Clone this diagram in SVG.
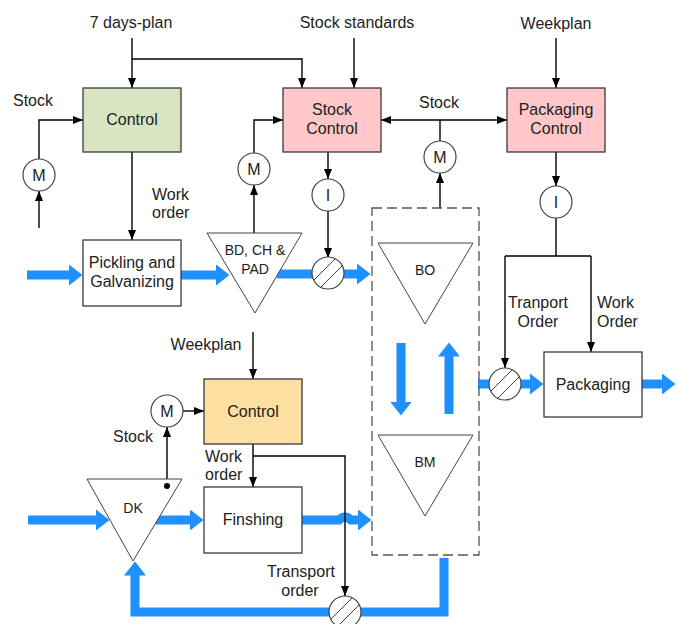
<svg xmlns="http://www.w3.org/2000/svg" xmlns:xlink="http://www.w3.org/1999/xlink" width="678" height="624" viewBox="0 0 678 624">
  <style>
    text { font-family: "Liberation Sans", Arial, sans-serif; font-size: 16px; fill: #222; }
    .c { text-anchor: middle; }
    .sm { font-size: 14px; }
    .box { stroke: #3a3a3a; stroke-width: 1.3; }
    .tri { fill: #fff; stroke: #444; stroke-width: 1; }
    .circ { fill: #fff; stroke: #444; stroke-width: 1.2; }
    .ln { fill: none; stroke: #000; stroke-width: 1.4; }
    .arr { marker-end: url(#ah); }
    .flow { fill: none; stroke: #1e90ff; stroke-width: 9; }
    .fa { marker-end: url(#bh); }
    .dash { fill: none; stroke: #555; stroke-width: 1.3; stroke-dasharray: 10 5; }
  </style>
  <defs>
    <marker id="ah" markerUnits="userSpaceOnUse" markerWidth="10" markerHeight="8" refX="10" refY="4" orient="auto">
      <path d="M0,0 L10,4 L0,8 z" fill="#000"/>
    </marker>
    <marker id="bh" markerUnits="userSpaceOnUse" markerWidth="15" markerHeight="22" refX="0.5" refY="11" orient="auto">
      <path d="M0,0 L14,11 L0,22 z" fill="#1e90ff"/>
    </marker>
    <g id="valveShape">
      <circle r="16" class="circ"/>
      <path d="M-14.25,7.25 L7.25,-14.25 M-7.25,14.25 L14.25,-7.25" stroke="#444" stroke-width="1" fill="none"/>
    </g>
  </defs>

  <!-- material flows (blue) -->
  <g id="flows">
    <path class="flow fa" d="M27,275 H69"/>
    <path class="flow fa" d="M181,275 H216"/>
    <path class="flow" d="M277,274 H313"/>
    <path class="flow fa" d="M343,274 H357"/>
    <path class="flow" d="M478,384 H490"/>
    <path class="flow fa" d="M520,384 H530"/>
    <path class="flow fa" d="M642,384 H662"/>
    <path class="flow fa" d="M28,520 H96"/>
    <path class="flow fa" d="M156,520 H190"/>
    <path class="flow fa" d="M302,520 H339 Q345,514 351,520 H358"/>
    <path class="flow fa" d="M401,343 V402"/>
    <path class="flow fa" d="M449,414 V356"/>
    <path class="flow fa" d="M444,558 V612 H135 V575" stroke-linejoin="miter"/>
  </g>

  <!-- information connectors (black) -->
  <g id="connectors">
    <path class="ln arr" d="M132,38 V88"/>
    <path class="ln arr" d="M132,59 H302 V88"/>
    <path class="ln arr" d="M354,38 V88"/>
    <path class="ln arr" d="M556,38 V88"/>
    <path class="ln arr" d="M39,228 V191"/>
    <path class="ln arr" d="M39,159 V120 H83"/>
    <path class="ln arr" d="M132,152 V240"/>
    <path class="ln arr" d="M254,233 V185"/>
    <path class="ln arr" d="M254,153 V120 H283"/>
    <path class="ln arr" d="M328,152 V179"/>
    <path class="ln arr" d="M328,211 V258"/>
    <path class="ln arr" d="M440,120 H381"/>
    <path class="ln arr" d="M440,120 H507"/>
    <path class="ln" d="M440,120 V141"/>
    <path class="ln arr" d="M440,208 V173"/>
    <path class="ln arr" d="M556,152 V186"/>
    <path class="ln" d="M556,218 V256 M505,256 H591"/>
    <path class="ln arr" d="M505,256 V368"/>
    <path class="ln arr" d="M591,256 V352"/>
    <path class="ln arr" d="M253,332 V379"/>
    <path class="ln arr" d="M167,486 V427"/>
    <path class="ln arr" d="M183,411 H204"/>
    <path class="ln arr" d="M253,444 V487"/>
    <path class="ln arr" d="M253,456 H345 V596"/>
  </g>

  <!-- free labels -->
  <g id="labels">
    <text x="131" y="28" class="c">7 days-plan</text>
    <text x="357" y="28" class="c">Stock standards</text>
    <text x="556" y="29" class="c">Weekplan</text>
    <text x="13" y="106">Stock</text>
    <text x="152" y="200">Work</text>
    <text x="152" y="218">order</text>
    <text x="439" y="108" class="c">Stock</text>
    <text x="538" y="308" class="c">Tranport</text>
    <text x="538" y="327" class="c">Order</text>
    <text x="597" y="308">Work</text>
    <text x="597" y="327">Order</text>
    <text x="206" y="350" class="c">Weekplan</text>
    <text x="133" y="442" class="c">Stock</text>
    <text x="205" y="462">Work</text>
    <text x="205" y="480">order</text>
    <text x="301" y="577" class="c">Transport</text>
    <text x="300" y="596" class="c">order</text>
  </g>

  <g id="control-top">
    <rect x="83" y="88" width="98" height="64" fill="#d8e4c2" class="box"/>
    <text x="132" y="125" class="c">Control</text>
  </g>
  <g id="stock-control">
    <rect x="283" y="88" width="98" height="64" fill="#ffc7c7" class="box"/>
    <text x="332" y="115" class="c">Stock</text>
    <text x="332" y="134" class="c">Control</text>
  </g>
  <g id="packaging-control">
    <rect x="507" y="88" width="98" height="64" fill="#ffc7c7" class="box"/>
    <text x="556" y="115" class="c">Packaging</text>
    <text x="556" y="134" class="c">Control</text>
  </g>
  <g id="pickling">
    <rect x="83" y="240" width="98" height="66" fill="#fff" class="box"/>
    <text x="132" y="268" class="c">Pickling and</text>
    <text x="132" y="287" class="c">Galvanizing</text>
  </g>
  <g id="bd-ch-pad">
    <path class="tri" d="M207,233 H302 L255,313 z"/>
    <text x="255" y="255" class="c sm">BD, CH &amp;</text>
    <text x="255" y="274" class="c sm">PAD</text>
  </g>
  <g id="buffer-zone">
    <rect x="372" y="208" width="107" height="347" class="dash"/>
  </g>
  <g id="bo">
    <path class="tri" d="M378,243 H473 L425,324 z"/>
    <text x="425" y="275" class="c sm">BO</text>
  </g>
  <g id="bm">
    <path class="tri" d="M378,435 H473 L425,516 z"/>
    <text x="425" y="467" class="c sm">BM</text>
  </g>
  <g id="packaging">
    <rect x="544" y="352" width="98" height="65" fill="#fff" class="box"/>
    <text x="593" y="390" class="c">Packaging</text>
  </g>
  <g id="control-bottom">
    <rect x="204" y="379" width="98" height="65" fill="#fddfa2" class="box"/>
    <text x="253" y="417" class="c">Control</text>
  </g>
  <g id="finishing">
    <rect x="204" y="487" width="98" height="66" fill="#fff" class="box"/>
    <text x="253" y="525" class="c">Finshing</text>
  </g>
  <g id="dk">
    <path class="tri" d="M87,479 H182 L133,561 z"/>
    <circle cx="167" cy="486" r="3" fill="#000"/>
    <text x="133" y="513" class="c sm">DK</text>
  </g>

  <!-- measuring points -->
  <g id="m-left"><circle cx="39" cy="175" r="16" class="circ"/><text x="39" y="181" class="c">M</text></g>
  <g id="m-bd"><circle cx="254" cy="169" r="16" class="circ"/><text x="254" y="175" class="c">M</text></g>
  <g id="m-buffer"><circle cx="440" cy="157" r="16" class="circ"/><text x="440" y="163" class="c">M</text></g>
  <g id="m-dk"><circle cx="167" cy="411" r="16" class="circ"/><text x="167" y="417" class="c">M</text></g>
  <!-- instruction points -->
  <g id="i-stock"><circle cx="328" cy="195" r="16" class="circ"/><text x="328" y="201" class="c">I</text></g>
  <g id="i-pack"><circle cx="556" cy="202" r="16" class="circ"/><text x="556" y="208" class="c">I</text></g>
  <!-- valves -->
  <g id="valve-bo"><use xlink:href="#valveShape" x="328" y="273"/></g>
  <g id="valve-pack"><use xlink:href="#valveShape" x="505" y="384"/></g>
  <g id="valve-return"><use xlink:href="#valveShape" x="345" y="612"/></g>
</svg>
